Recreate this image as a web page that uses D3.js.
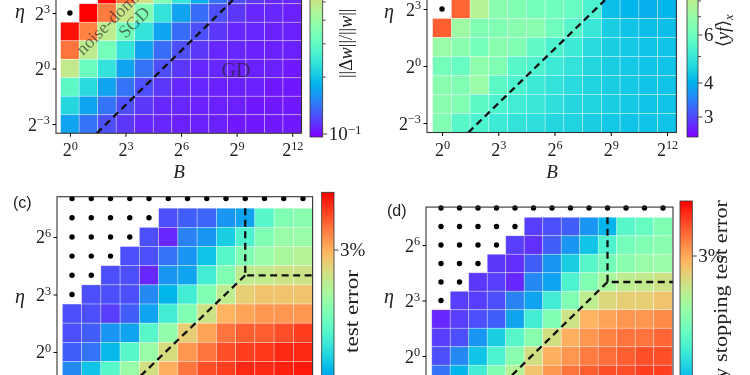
<!DOCTYPE html>
<html>
<head>
<meta charset="utf-8">
<script src="https://cdn.jsdelivr.net/npm/d3@7"></script>
<style>
  body { margin: 0; background: #fff; }
  svg { display: block; filter: blur(0.4px); }
  text { font-family: "Liberation Serif", "DejaVu Serif", serif; fill: #222; }
  text.panel { font-family: "Liberation Sans", "DejaVu Sans", sans-serif; }
</style>
</head>
<body>
<svg id="fig" width="750" height="375"></svg>
<script>
// ---- data (exponents of 2, colour levels 0..1; null = diverged) ----
const bExp = [0, 1, 2, 3, 4, 5, 6, 7, 8, 9, 10, 11, 12];
const xTickExp = [0, 3, 6, 9, 12];
const yTicksTop = [-3, 0, 3];
const yTicksBottom = [0, 3, 6];

const etaA = [4, 3, 2, 1, 0, -1, -2, -3];
const levelA = [
  [null, null, 1.00, 0.85, 0.66, 0.50, 0.36, 0.24, 0.15, 0.10, 0.07, 0.05, 0.05],
  [null, 1.00, 0.84, 0.64, 0.50, 0.35, 0.22, 0.14, 0.10, 0.07, 0.05, 0.05, 0.04],
  [0.98, 0.83, 0.62, 0.48, 0.35, 0.22, 0.14, 0.10, 0.07, 0.05, 0.05, 0.04, 0.04],
  [0.85, 0.62, 0.48, 0.35, 0.22, 0.14, 0.10, 0.07, 0.05, 0.05, 0.04, 0.04, 0.04],
  [0.63, 0.46, 0.35, 0.22, 0.15, 0.10, 0.07, 0.05, 0.05, 0.04, 0.04, 0.04, 0.03],
  [0.43, 0.33, 0.22, 0.15, 0.10, 0.07, 0.05, 0.05, 0.04, 0.04, 0.04, 0.03, 0.03],
  [0.32, 0.22, 0.15, 0.10, 0.07, 0.05, 0.05, 0.04, 0.04, 0.04, 0.03, 0.03, 0.03],
  [0.22, 0.15, 0.10, 0.07, 0.05, 0.05, 0.04, 0.04, 0.04, 0.03, 0.03, 0.03, 0.03]
];

const etaB = [3, 2, 1, 0, -1, -2, -3];
const levelB = [
  [null, 0.87, 0.60, 0.52, 0.50, 0.48, 0.47, 0.45, 0.40, 0.27, 0.25, 0.24, 0.25],
  [0.88, 0.56, 0.50, 0.50, 0.52, 0.52, 0.47, 0.42, 0.36, 0.30, 0.28, 0.27, 0.27],
  [0.55, 0.52, 0.48, 0.52, 0.50, 0.44, 0.40, 0.37, 0.33, 0.30, 0.29, 0.28, 0.28],
  [0.48, 0.45, 0.53, 0.50, 0.42, 0.40, 0.37, 0.35, 0.32, 0.30, 0.29, 0.28, 0.28],
  [0.52, 0.50, 0.55, 0.43, 0.40, 0.37, 0.35, 0.33, 0.31, 0.30, 0.29, 0.28, 0.28],
  [0.52, 0.50, 0.43, 0.40, 0.38, 0.36, 0.34, 0.32, 0.31, 0.30, 0.29, 0.28, 0.28],
  [0.50, 0.42, 0.40, 0.37, 0.35, 0.34, 0.32, 0.31, 0.30, 0.29, 0.28, 0.28, 0.28]
];

const etaCD = [8, 7, 6, 5, 4, 3, 2, 1, 0, -1];
const levelC = [
  [null, null, null, null, null, null, null, null, null, null, null, null, null],
  [null, null, null, null, null, 0.10, 0.12, 0.13, 0.20, 0.22, 0.42, 0.50, 0.52],
  [null, null, null, null, 0.10, 0.05, 0.17, 0.20, 0.30, 0.40, 0.50, 0.55, 0.55],
  [null, null, null, 0.10, 0.10, 0.15, 0.20, 0.28, 0.42, 0.50, 0.55, 0.58, 0.60],
  [null, null, 0.10, 0.10, 0.05, 0.20, 0.22, 0.38, 0.50, 0.62, 0.63, 0.65, 0.65],
  [null, 0.10, 0.10, 0.10, 0.18, 0.25, 0.38, 0.50, 0.62, 0.70, 0.72, 0.72, 0.72],
  [0.10, 0.10, 0.08, 0.12, 0.22, 0.38, 0.50, 0.65, 0.75, 0.78, 0.80, 0.80, 0.80],
  [0.10, 0.12, 0.20, 0.22, 0.42, 0.54, 0.70, 0.78, 0.85, 0.88, 0.88, 0.90, 0.92],
  [0.12, 0.15, 0.26, 0.42, 0.55, 0.67, 0.80, 0.85, 0.90, 0.92, 0.93, 0.95, 0.95],
  [0.18, 0.28, 0.42, 0.55, 0.66, 0.76, 0.85, 0.90, 0.92, 0.95, 0.95, 0.96, 0.97]
];
const levelD = [
  [null, null, null, null, null, null, null, null, null, null, null, null, null],
  [null, null, null, null, null, 0.08, 0.10, 0.12, 0.20, 0.25, 0.42, 0.45, 0.50],
  [null, null, null, null, 0.08, 0.06, 0.12, 0.20, 0.28, 0.40, 0.48, 0.50, 0.52],
  [null, null, null, 0.07, 0.06, 0.12, 0.20, 0.30, 0.42, 0.48, 0.52, 0.55, 0.55],
  [null, null, 0.07, 0.08, 0.05, 0.18, 0.22, 0.40, 0.50, 0.58, 0.62, 0.63, 0.65],
  [null, 0.08, 0.08, 0.10, 0.17, 0.22, 0.38, 0.50, 0.62, 0.68, 0.70, 0.70, 0.72],
  [0.05, 0.08, 0.10, 0.12, 0.22, 0.38, 0.50, 0.65, 0.75, 0.78, 0.80, 0.80, 0.82],
  [0.08, 0.10, 0.20, 0.30, 0.42, 0.52, 0.66, 0.76, 0.80, 0.83, 0.85, 0.85, 0.87],
  [0.10, 0.18, 0.28, 0.40, 0.52, 0.66, 0.76, 0.80, 0.84, 0.86, 0.88, 0.90, 0.90],
  [0.15, 0.25, 0.38, 0.50, 0.60, 0.72, 0.80, 0.85, 0.88, 0.90, 0.90, 0.92, 0.92]
];

// dashed boundaries, in (log2 B, log2 eta)
const dashA = [[[1.45, -3.5], [8.8, 3.7]]];
const dashB = [[[1.4, -3.5], [8.69, 3.47]]];
const dashC = [[[9, 7.5], [9, 4], [12.5, 4]], [[9, 4], [3.2, -1.6]]];
const dashD = [[[9, 7.5], [9, 4], [12.55, 4]], [[9, 4], [3.26, -1.6]]];

// colour-bar ticks
const cbTicksA = [0.1, 0.2, 0.3, 0.4, 0.5, 0.6, 0.7, 0.8, 0.9];
const cbTicksB = [3, 4, 5, 6, 7, 8];
const cbLabelsB = [3, 4, 6];
const cbTicksCD = [2, 3];

// matplotlib "rainbow"
function rainbow(t) {
  const r = Math.min(1, Math.abs(2 * t - 0.5));
  const g = Math.sin(Math.PI * t);
  const b = Math.cos(Math.PI * t / 2);
  return d3.rgb(r * 255, g * 255, b * 255).formatHex();
}
const colour = d3.scaleSequential(rainbow).domain([0, 1]);

const svg = d3.select('#fig');
const defs = svg.append('defs');

const grad = defs.append('linearGradient')
  .attr('id', 'rb').attr('x1', 0).attr('y1', 1).attr('x2', 0).attr('y2', 0);
grad.selectAll('stop').data(d3.range(0, 1.0001, 0.05)).join('stop')
  .attr('offset', d => d).attr('stop-color', d => colour(d));

function powLabel(sel, e) {
  sel.append('tspan').text('2');
  sel.append('tspan').attr('dy', '-0.5em').attr('font-size', '0.68em')
    .text(e < 0 ? '\u2212' + (-e) : e);
}

function drawPanel(p) {
  const g = svg.append('g');
  const x = d3.scaleLinear().domain(p.xDom).range(p.xRange);
  const y = d3.scaleLinear().domain(p.yDom).range(p.yRange);
  const top = y(p.yDom[1]), bot = y(p.yDom[0]);

  defs.append('clipPath').attr('id', 'clip' + p.id)
    .append('rect').attr('x', p.xRange[0]).attr('y', top)
    .attr('width', p.xRange[1] - p.xRange[0]).attr('height', bot - top);

  const cells = [];
  p.eta.forEach((e, i) => p.levels[i].forEach((v, j) => cells.push({ e: e, b: bExp[j], v: v })));

  const body = g.append('g').attr('clip-path', `url(#clip${p.id})`);
  const cw = x(1) - x(0), ch = y(0) - y(1);
  body.selectAll('rect').data(cells.filter(c => c.v != null)).join('rect')
    .attr('x', d => x(d.b - 0.5))
    .attr('y', d => y(d.e + 0.5))
    .attr('width', cw)
    .attr('height', ch)
    .attr('fill', d => colour(d.v))
    .attr('stroke', 'rgba(255,255,255,0.45)')
    .attr('stroke-width', 0.7);

  const line = d3.line().x(d => x(d[0])).y(d => y(d[1]));
  body.selectAll('path.dash').data(p.dash).join('path')
    .attr('class', 'dash')
    .attr('d', line)
    .attr('fill', 'none')
    .attr('stroke', '#111')
    .attr('stroke-width', 2.3)
    .attr('stroke-dasharray', '7,4.5');

  g.selectAll('circle').data(cells.filter(c => c.v == null)).join('circle')
    .attr('cx', d => x(d.b))
    .attr('cy', d => y(d.e))
    .attr('r', 2.7)
    .attr('fill', '#000');

  g.append('rect')
    .attr('x', p.xRange[0]).attr('y', top)
    .attr('width', p.xRange[1] - p.xRange[0]).attr('height', bot - top)
    .attr('fill', 'none').attr('stroke', '#333').attr('stroke-width', 1.1);

  // axes
  const xa = g.append('g').attr('transform', `translate(0,${bot})`)
    .call(d3.axisBottom(x).tickValues(xTickExp).tickSize(3.5).tickFormat(''));
  xa.select('.domain').remove();
  xa.selectAll('.tick text').remove();
  xa.selectAll('.tick').append('text')
    .attr('y', 23).attr('text-anchor', 'middle').attr('font-size', 18).attr('fill', '#222')
    .each(function(d) { powLabel(d3.select(this), d); });

  const ya = g.append('g').attr('transform', `translate(${p.xRange[0]},0)`)
    .call(d3.axisLeft(y).tickValues(p.yTicks).tickSize(3.5).tickFormat(''));
  ya.select('.domain').remove();
  ya.selectAll('.tick text').remove();
  ya.selectAll('.tick').append('text')
    .attr('x', -6).attr('y', 6).attr('text-anchor', 'end').attr('font-size', 18).attr('fill', '#222')
    .each(function(d) { powLabel(d3.select(this), d); });

  g.append('text').attr('x', p.etaPos[0]).attr('y', p.etaPos[1])
    .attr('font-size', 20).attr('font-style', 'italic').text('\u03b7');
  if (p.bPos) {
    g.append('text').attr('x', p.bPos[0]).attr('y', p.bPos[1]).attr('text-anchor', 'middle')
      .attr('font-size', 19).attr('font-style', 'italic').text('B');
  }

  // colour bar
  const cb = p.cbar;
  g.append('rect').attr('x', cb.x).attr('y', cb.yTop).attr('width', cb.w)
    .attr('height', cb.yBot - cb.yTop).attr('fill', 'url(#rb)')
    .attr('stroke', '#333').attr('stroke-width', 0.8);
  const ticks = g.append('g');
  ticks.selectAll('line').data(cb.ticks).join('line')
    .attr('x1', cb.x + cb.w).attr('x2', d => cb.x + cb.w + (cb.labels.includes(d) ? 4.5 : 3))
    .attr('y1', d => cb.scale(d)).attr('y2', d => cb.scale(d))
    .attr('stroke', '#333').attr('stroke-width', 0.9);
  ticks.selectAll('text').data(cb.labels).join('text')
    .attr('x', cb.x + cb.w + 6).attr('y', d => cb.scale(d) + 6)
    .attr('font-size', 19)
    .each(function(d) { cb.fmt(d3.select(this), d); });

  return { x: x, y: y, g: g };
}

// (a)
const pa = drawPanel({
  id: 'a', xDom: [-0.75, 12.5], xRange: [56, 301.5], yDom: [-3.5, 4.5], yRange: [133.25, -14.75],
  eta: etaA, levels: levelA, dash: dashA, yTicks: yTicksTop, etaPos: [15, 18], bPos: [179, 178],
  cbar: { x: 310, w: 12.7, yTop: -74, yBot: 137, ticks: cbTicksA, labels: [0.1],
    scale: d3.scaleLog().domain([0.1, 1]).range([134, -55]),
    fmt: (s, d) => { s.append('tspan').text('10'); s.append('tspan').attr('dy', '-0.5em')
      .attr('font-size', '0.68em').text('\u22121'); } }
});
pa.g.append('text').attr('transform', 'translate(352,78) rotate(-90)').attr('font-size', 18)
  .call(t => {
    t.append('tspan').text('||\u0394');
    t.append('tspan').attr('font-style', 'italic').text('w');
    t.append('tspan').text('||/||');
    t.append('tspan').attr('font-style', 'italic').text('w');
    t.append('tspan').text('||');
  });
const ann = pa.g.append('g').attr('transform', 'translate(134,22) rotate(-45)')
  .attr('font-size', 18).attr('text-anchor', 'middle');
ann.append('text').attr('y', -12).attr('fill', '#000').attr('fill-opacity', 0.6).text('noise-dominated');
ann.append('text').attr('y', 6).attr('fill', '#000').attr('fill-opacity', 0.6).text('SGD');
pa.g.append('text').attr('x', 236).attr('y', 77).attr('text-anchor', 'middle')
  .attr('font-size', 20).attr('fill', '#000').attr('fill-opacity', 0.6).text('GD');

// (b)
const pb = drawPanel({
  id: 'b', xDom: [-0.8, 12.5], xRange: [427, 676.4], yDom: [-3.5, 4], yRange: [132.5, -10],
  eta: etaB, levels: levelB, dash: dashB, yTicks: yTicksTop, etaPos: [384, 18], bPos: [552, 178],
  cbar: { x: 687, w: 11, yTop: -84, yBot: 137, ticks: cbTicksB, labels: cbLabelsB,
    scale: d3.scaleLog().domain([3, 6]).range([117, 35]),
    fmt: (s, d) => s.text(d) }
});
pb.g.append('text').attr('transform', 'translate(729,47) rotate(-90)').attr('font-size', 18)
  .call(t => {
    t.append('tspan').text('\u27e8');
    t.append('tspan').attr('font-style', 'italic').text('yf');
    t.append('tspan').text('\u27e9');
    t.append('tspan').attr('font-style', 'italic').attr('font-size', '0.7em').attr('dy', '0.3em').text('x');
  });

// (c)
const pc = drawPanel({
  id: 'c', xDom: [-0.78, 12.5], xRange: [57, 312.6], yDom: [-2, 8.1], yRange: [390.3, 196.7],
  eta: etaCD, levels: levelC, dash: dashC, yTicks: yTicksBottom, etaPos: [15, 303], bPos: null,
  cbar: { x: 321.7, w: 12.3, yTop: 192.3, yBot: 430, ticks: cbTicksCD, labels: [3],
    scale: d3.scaleLog().domain([2, 3]).range([400, 250]),
    fmt: (s, d) => s.text(d + '%') }
});
pc.g.append('text').attr('class', 'panel').attr('x', 13).attr('y', 208)
  .attr('font-size', 16).text('(c)');
pc.g.append('text').attr('transform', 'translate(358,353) rotate(-90)').attr('font-size', 18)
  .attr('textLength', 83).attr('lengthAdjust', 'spacingAndGlyphs').text('test error');

// (d)
const pd = drawPanel({
  id: 'd', xDom: [-0.81, 12.54], xRange: [426, 673], yDom: [-2, 8.05], yRange: [393, 207.1],
  eta: etaCD, levels: levelD, dash: dashD, yTicks: yTicksBottom, etaPos: [384, 303], bPos: null,
  cbar: { x: 680, w: 12.3, yTop: 201, yBot: 440, ticks: cbTicksCD, labels: [3],
    scale: d3.scaleLog().domain([2, 3]).range([410, 256]),
    fmt: (s, d) => s.text(d + '%') }
});
pd.g.append('text').attr('class', 'panel').attr('x', 387).attr('y', 216)
  .attr('font-size', 16).text('(d)');
pd.g.append('text').attr('transform', 'translate(727,200) rotate(-90)').attr('font-size', 18)
  .attr('text-anchor', 'end').attr('textLength', 212).attr('lengthAdjust', 'spacingAndGlyphs')
  .text('early stopping test error');
</script>
</body>
</html>
